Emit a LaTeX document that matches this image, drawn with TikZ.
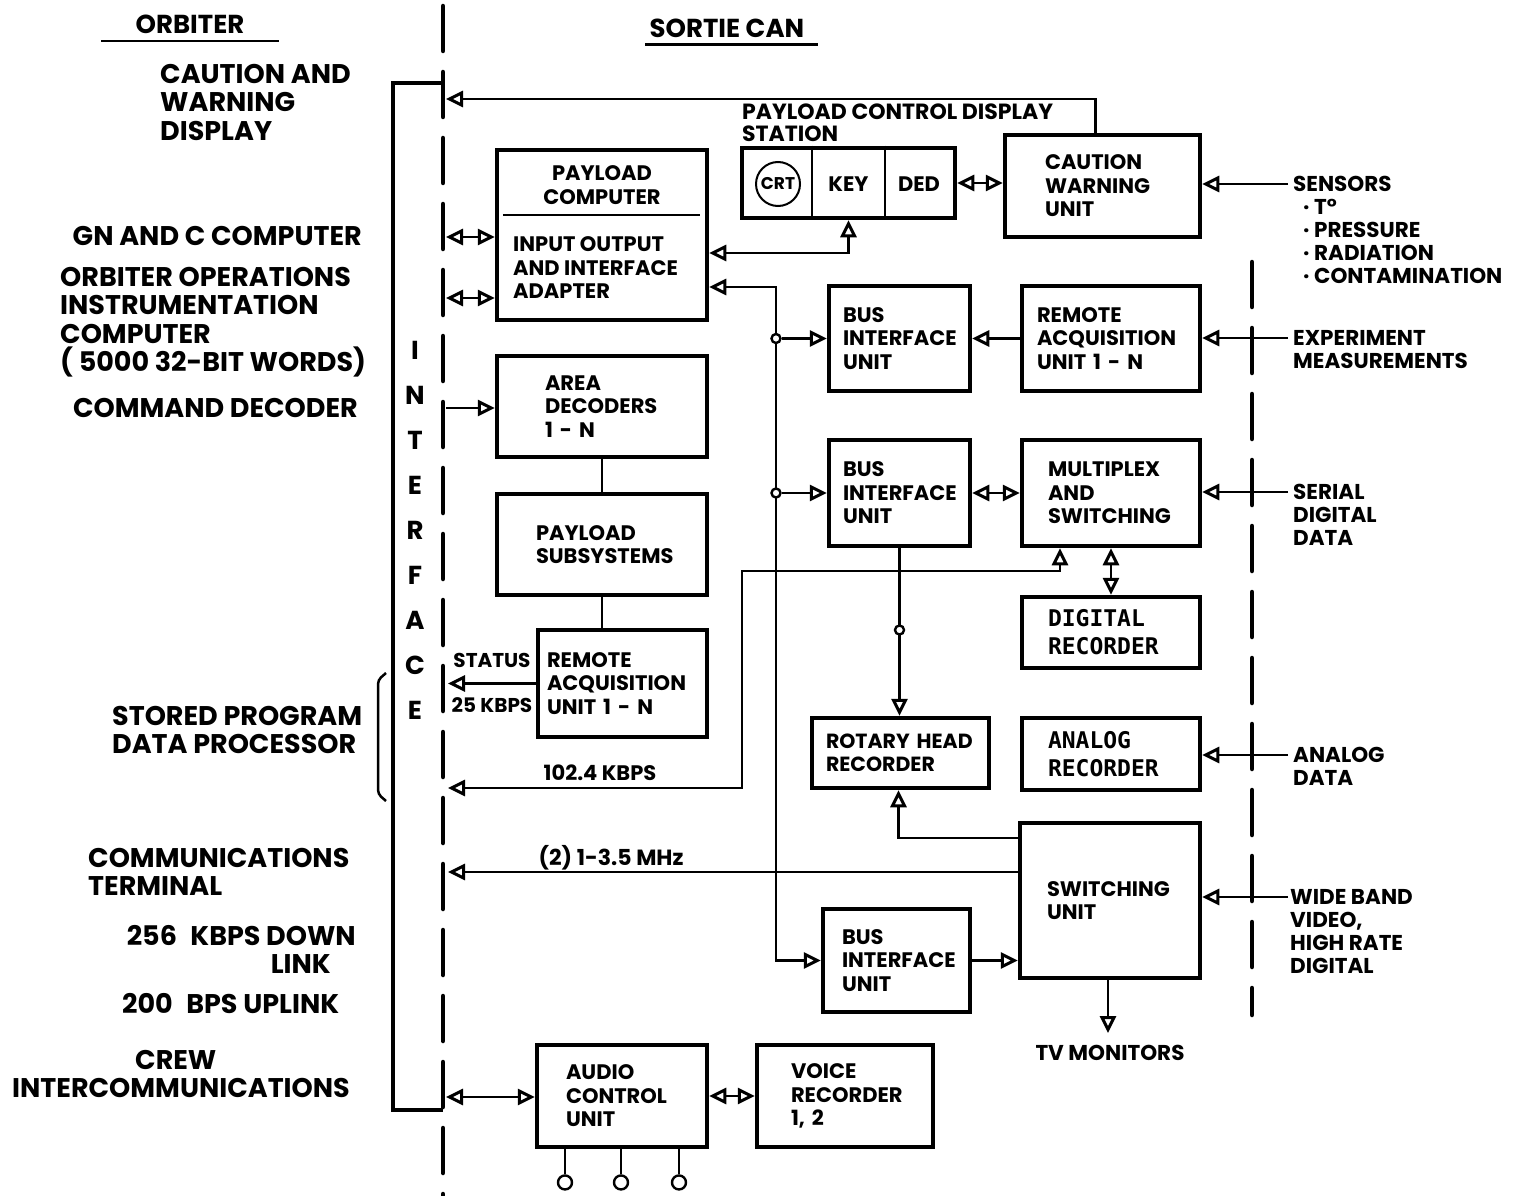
\documentclass[tikz,border=0pt]{standalone}
\usepackage{fontspec}
\setmainfont{Poppins}
\newfontfamily\recfont{DejaVu Sans Mono}
\usetikzlibrary{arrows.meta,calc}
\newcommand{\hdf}{\fontsize{26}{28.5}\selectfont\bfseries}
\newcommand{\lbf}{\fontsize{27}{28.5}\selectfont\bfseries}
\newcommand{\bxf}{\fontsize{21}{23.5}\selectfont\bfseries}
\newcommand{\inpf}{\fontsize{21.5}{23}\selectfont\bfseries}
\newcommand{\recf}{\fontsize{23}{28}\selectfont\recfont\bfseries}

\begin{document}
\begin{tikzpicture}[x=1pt,y=-1pt,>={Triangle[open,length=17pt,width=16pt,line width=3pt]},
  blk/.style={draw,line width=4.5pt,inner sep=0pt,align=left,font=\bxf},
  txt/.style={inner sep=0pt,align=left},
  link/.style={line width=2.6pt},
  jn/.style={circle,draw,fill=white,line width=2.4pt,inner sep=0pt,minimum size=9pt},
  jack/.style={circle,draw,line width=2.4pt,inner sep=0pt,minimum size=14pt,anchor=north},
  ifc/.style={line width=4.5pt,dash pattern=on 45pt off 21pt,line cap=round}]
  \useasboundingbox (0,0) rectangle (1532,1196);

  % headings
  \node[txt,font=\hdf] (orb) at (190,24) {ORBITER};
  \draw[line width=2.5pt] (101,41) -- (279,41);
  \node[txt,font=\hdf] (sortie) at (727,28) {SORTIE CAN};
  \draw[line width=3pt] (645,45) -- (818,45);

  % interface lines
  \draw[ifc] (443,6) -- (443,1196);
  \draw[ifc] (1252,262) -- (1252,1015);
  \draw[line width=4.5pt] (443,83) -| (393,1110) -- (443,1110);
  \foreach \ch [count=\i] in {I,N,T,E,R,F,A,C,E}
    \node[txt,font=\hdf] (if\i) at (415,305+45*\i) {\ch};

  % orbiter side
  \node[txt,font=\lbf,anchor=north west] (cwd) at (160,64) {CAUTION AND\\WARNING\\DISPLAY};
  \node[txt,font=\lbf,anchor=east] (gnc) at (362,236) {GN AND C COMPUTER};
  \node[txt,font=\lbf,anchor=north west] (ooi) at (60,267) {ORBITER OPERATIONS\\INSTRUMENTATION\\COMPUTER\\( 5000 32-BIT WORDS)};
  \node[txt,font=\lbf,anchor=east] (cmd) at (358,408) {COMMAND DECODER};
  \node[txt,font=\lbf,anchor=north west] (spdp) at (112,706) {STORED PROGRAM\\DATA PROCESSOR};
  \draw[line width=2.5pt,rounded corners=4pt] (386,673) -- (378,680) -- (378,794) -- (386,801);
  \node[txt,font=\lbf,anchor=north west] (comm) at (88,848) {COMMUNICATIONS\\TERMINAL};
  \node[txt,font=\lbf,anchor=north east,align=right] (down) at (356,925) {256\enspace KBPS DOWN\\LINK\hspace*{25pt}};
  \node[txt,font=\lbf,anchor=west] (up) at (122,1004) {200\enspace BPS UPLINK};
  \node[txt,font=\lbf,anchor=north west] (crew) at (12,1050) {\hspace*{123pt}CREW\\INTERCOMMUNICATIONS};

  % sortie can blocks
  \node[blk,minimum width=210pt,minimum height=170pt] (pc) at (602,235) {};
  \node[txt,font=\bxf,align=center] (pcname) at (602,185) {PAYLOAD\\COMPUTER};
  \draw[line width=2pt] (pc.west |- 0,215) ++(8,0) -- ([xshift=-9pt]pc.east |- 0,215);
  \node[txt,font=\bxf,anchor=west] (pcio) at (513,268) {INPUT OUTPUT\\AND INTERFACE\\ADAPTER};

  \node[txt,font=\fontsize{22}{22}\selectfont\bfseries,anchor=north west] (pcdsname) at (742,104) {PAYLOAD CONTROL DISPLAY\\STATION};
  \node[blk,minimum width=213pt,minimum height=70pt,fill=white] (pcds) at (848.5,183) {};
  \draw[line width=2pt] ($(pcds.north west)!1/3!(pcds.north east)$) -- ($(pcds.south west)!1/3!(pcds.south east)$);
  \draw[line width=2pt] ($(pcds.north west)!2/3!(pcds.north east)$) -- ($(pcds.south west)!2/3!(pcds.south east)$);
  \node[circle,draw,line width=2pt,minimum size=44pt,inner sep=0pt,font=\fontsize{17}{18}\selectfont\bfseries] (crt) at (778,184) {CRT};
  \node[txt,font=\bxf] (key) at (848.5,184) {KEY};
  \node[txt,font=\bxf] (ded) at (919,184) {DED};

  \node[blk,minimum width=195pt,minimum height=102pt,text width=115pt] (cwu) at (1102.5,186) {CAUTION\\WARNING\\UNIT};
  \node[blk,minimum width=210pt,minimum height=101pt,text width=114pt] (area) at (602,406.5) {AREA\\DECODERS\\1 - N};
  \node[blk,minimum width=210pt,minimum height=101pt,text width=132pt] (subs) at (602,544.5) {PAYLOAD\\SUBSYSTEMS};
  \node[blk,minimum width=169pt,minimum height=107pt,text width=151pt] (raul) at (622.5,683.5) {REMOTE\\ACQUISITION\\UNIT 1 - N};
  \node[blk,minimum width=141pt,minimum height=105pt,text width=113pt] (biua) at (899.5,338.5) {BUS\\INTERFACE\\UNIT};
  \node[blk,minimum width=178pt,minimum height=105pt,text width=148pt] (raur) at (1111,338.5) {REMOTE\\ACQUISITION\\UNIT 1 - N};
  \node[blk,minimum width=141pt,minimum height=106pt,text width=113pt] (biub) at (899.5,493) {BUS\\INTERFACE\\UNIT};
  \node[blk,minimum width=178pt,minimum height=106pt,text width=126pt] (mux) at (1111,493) {MULTIPLEX\\AND\\SWITCHING};
  \node[blk,minimum width=178pt,minimum height=71pt,text width=126pt,font=\recf] (dig) at (1111,632.5) {DIGITAL\\RECORDER};
  \node[blk,minimum width=177pt,minimum height=70pt,text width=149pt,font=\fontsize{20.5}{23}\selectfont\bfseries] (rot) at (900.5,753) {ROTARY HEAD\\RECORDER};
  \node[blk,minimum width=178pt,minimum height=72pt,text width=126pt,font=\recf] (ana) at (1111,754) {ANALOG\\RECORDER};
  \node[blk,minimum width=180pt,minimum height=155pt,text width=126pt] (swu) at (1110,900.5) {SWITCHING\\UNIT};
  \node[blk,minimum width=147pt,minimum height=103pt,text width=109pt] (biuc) at (896.5,960.5) {BUS\\INTERFACE\\UNIT};
  \node[blk,minimum width=170pt,minimum height=102pt,text width=112pt] (acu) at (622,1096) {AUDIO\\CONTROL\\UNIT};
  \node[blk,minimum width=176pt,minimum height=102pt,text width=108pt] (vr) at (845,1096) {VOICE\\RECORDER\\1, 2};

  % outside inputs
  \node[txt,font=\inpf,anchor=north west] (sens) at (1293,176) {SENSORS\\\hspace*{10pt}· T°\\\hspace*{10pt}· PRESSURE\\\hspace*{10pt}· RADIATION\\\hspace*{10pt}· CONTAMINATION};
  \node[txt,font=\inpf,anchor=north west] (expm) at (1293,330) {EXPERIMENT\\MEASUREMENTS};
  \node[txt,font=\inpf,anchor=north west] (serd) at (1293,484) {SERIAL\\DIGITAL\\DATA};
  \node[txt,font=\inpf,anchor=north west] (anad) at (1293,747) {ANALOG\\DATA};
  \node[txt,font=\inpf,anchor=north west] (wide) at (1290,889) {WIDE BAND\\VIDEO,\\HIGH RATE\\DIGITAL};
  \node[txt,font=\inpf] (tv) at (1110,1053) {TV MONITORS};

  % taps
  \coordinate (t1) at (446,99);
  \coordinate (t2) at (446,237);
  \coordinate (t3) at (446,298);
  \coordinate (t4) at (446,408);
  \coordinate (t5) at (448,683.5);
  \coordinate (t6) at (448,788);
  \coordinate (t7) at (448,872);
  \coordinate (t8) at (446,1097);
  \coordinate (s1) at (1288,184);
  \coordinate (s2) at (1288,338);
  \coordinate (s3) at (1288,492);
  \coordinate (s4) at (1288,755);
  \coordinate (s5) at (1288,897);
  \coordinate (bt) at (776,287);
  \coordinate (kb) at (742,571);

  % connectors
  \draw[link,->] ([xshift=-7pt]cwu.north) |- (t1);
  \draw[link,<->] (t2) -- (t2 -| pc.west);
  \draw[link,<->] (t3) -- (t3 -| pc.west);
  \draw[link,<->] (pcds.east) -- (pcds.east -| cwu.west);
  \draw[link,<->] (pc.east |- 0,253) -| (pcds.south);
  \draw[link,<->] (pc.east |- bt) -- (bt) |- (biuc.west);
  \node[jn] (ja) at (bt |- biua.west) {};
  \node[jn] (jb) at (bt |- biub.west) {};
  \draw[link,->] (ja) -- (biua.west);
  \draw[link,->] (jb) -- (biub.west);
  \draw[link,->] (raur.west) -- (biua.east);
  \draw[link,<->] (biub.east) -- (mux.west);
  \draw[link,<->] (mux.south) -- (dig.north);
  \draw[link,<->] (t6) -| (kb) -| ([xshift=-51pt]mux.south);
  \node[txt,font=\fontsize{21}{23}\selectfont\bfseries] (kbps) at (600,773) {102.4 KBPS};
  \draw[link,->] (biub.south) -- (biub.south |- rot.north);
  \node[jn] (jc) at (biub.south |- 0,630) {};
  \draw[link,->] (t4) -- (t4 -| area.west);
  \draw[link] (area.south) -- (subs.north);
  \draw[link] (subs.south) -- (subs.south |- raul.north);
  \draw[link,->] (raul.west) -- (t5);
  \node[txt,font=\fontsize{20}{23}\selectfont\bfseries] (stat) at (492,660) {STATUS};
  \node[txt,font=\fontsize{20}{23}\selectfont\bfseries] (kb25) at (492,705) {25 KBPS};
  \draw[link,->] (swu.west |- 0,872) -- (t7);
  \node[txt,font=\fontsize{22}{23}\selectfont\bfseries] (mhz) at (611,858) {(2) 1-3.5 MHz};
  \draw[link,->] (swu.west |- 0,838) -| ([xshift=-2pt]rot.south);
  \draw[link,->] (biuc.east) -- (biuc.east -| swu.west);
  \draw[link,->] ([xshift=-2pt]swu.south) -- ([xshift=-2pt,yshift=12pt]tv.north);
  \draw[link,<->] (t8) -- (t8 -| acu.west);
  \draw[link,<->] (acu.east) -- (vr.west);
  \draw[link,->] (s1) -- (s1 -| cwu.east);
  \draw[link,->] (s2) -- (s2 -| raur.east);
  \draw[link,->] (s3) -- (s3 -| mux.east);
  \draw[link,->] (s4) -- (s4 -| ana.east);
  \draw[link,->] (s5) -- (s5 -| swu.east);
  \foreach \dx [count=\k] in {-57,-1,57}
    \draw[link] ([xshift=\dx pt]acu.south) -- ++(0,25) node[jack] (jk\k) {};
\end{tikzpicture}
\end{document}
